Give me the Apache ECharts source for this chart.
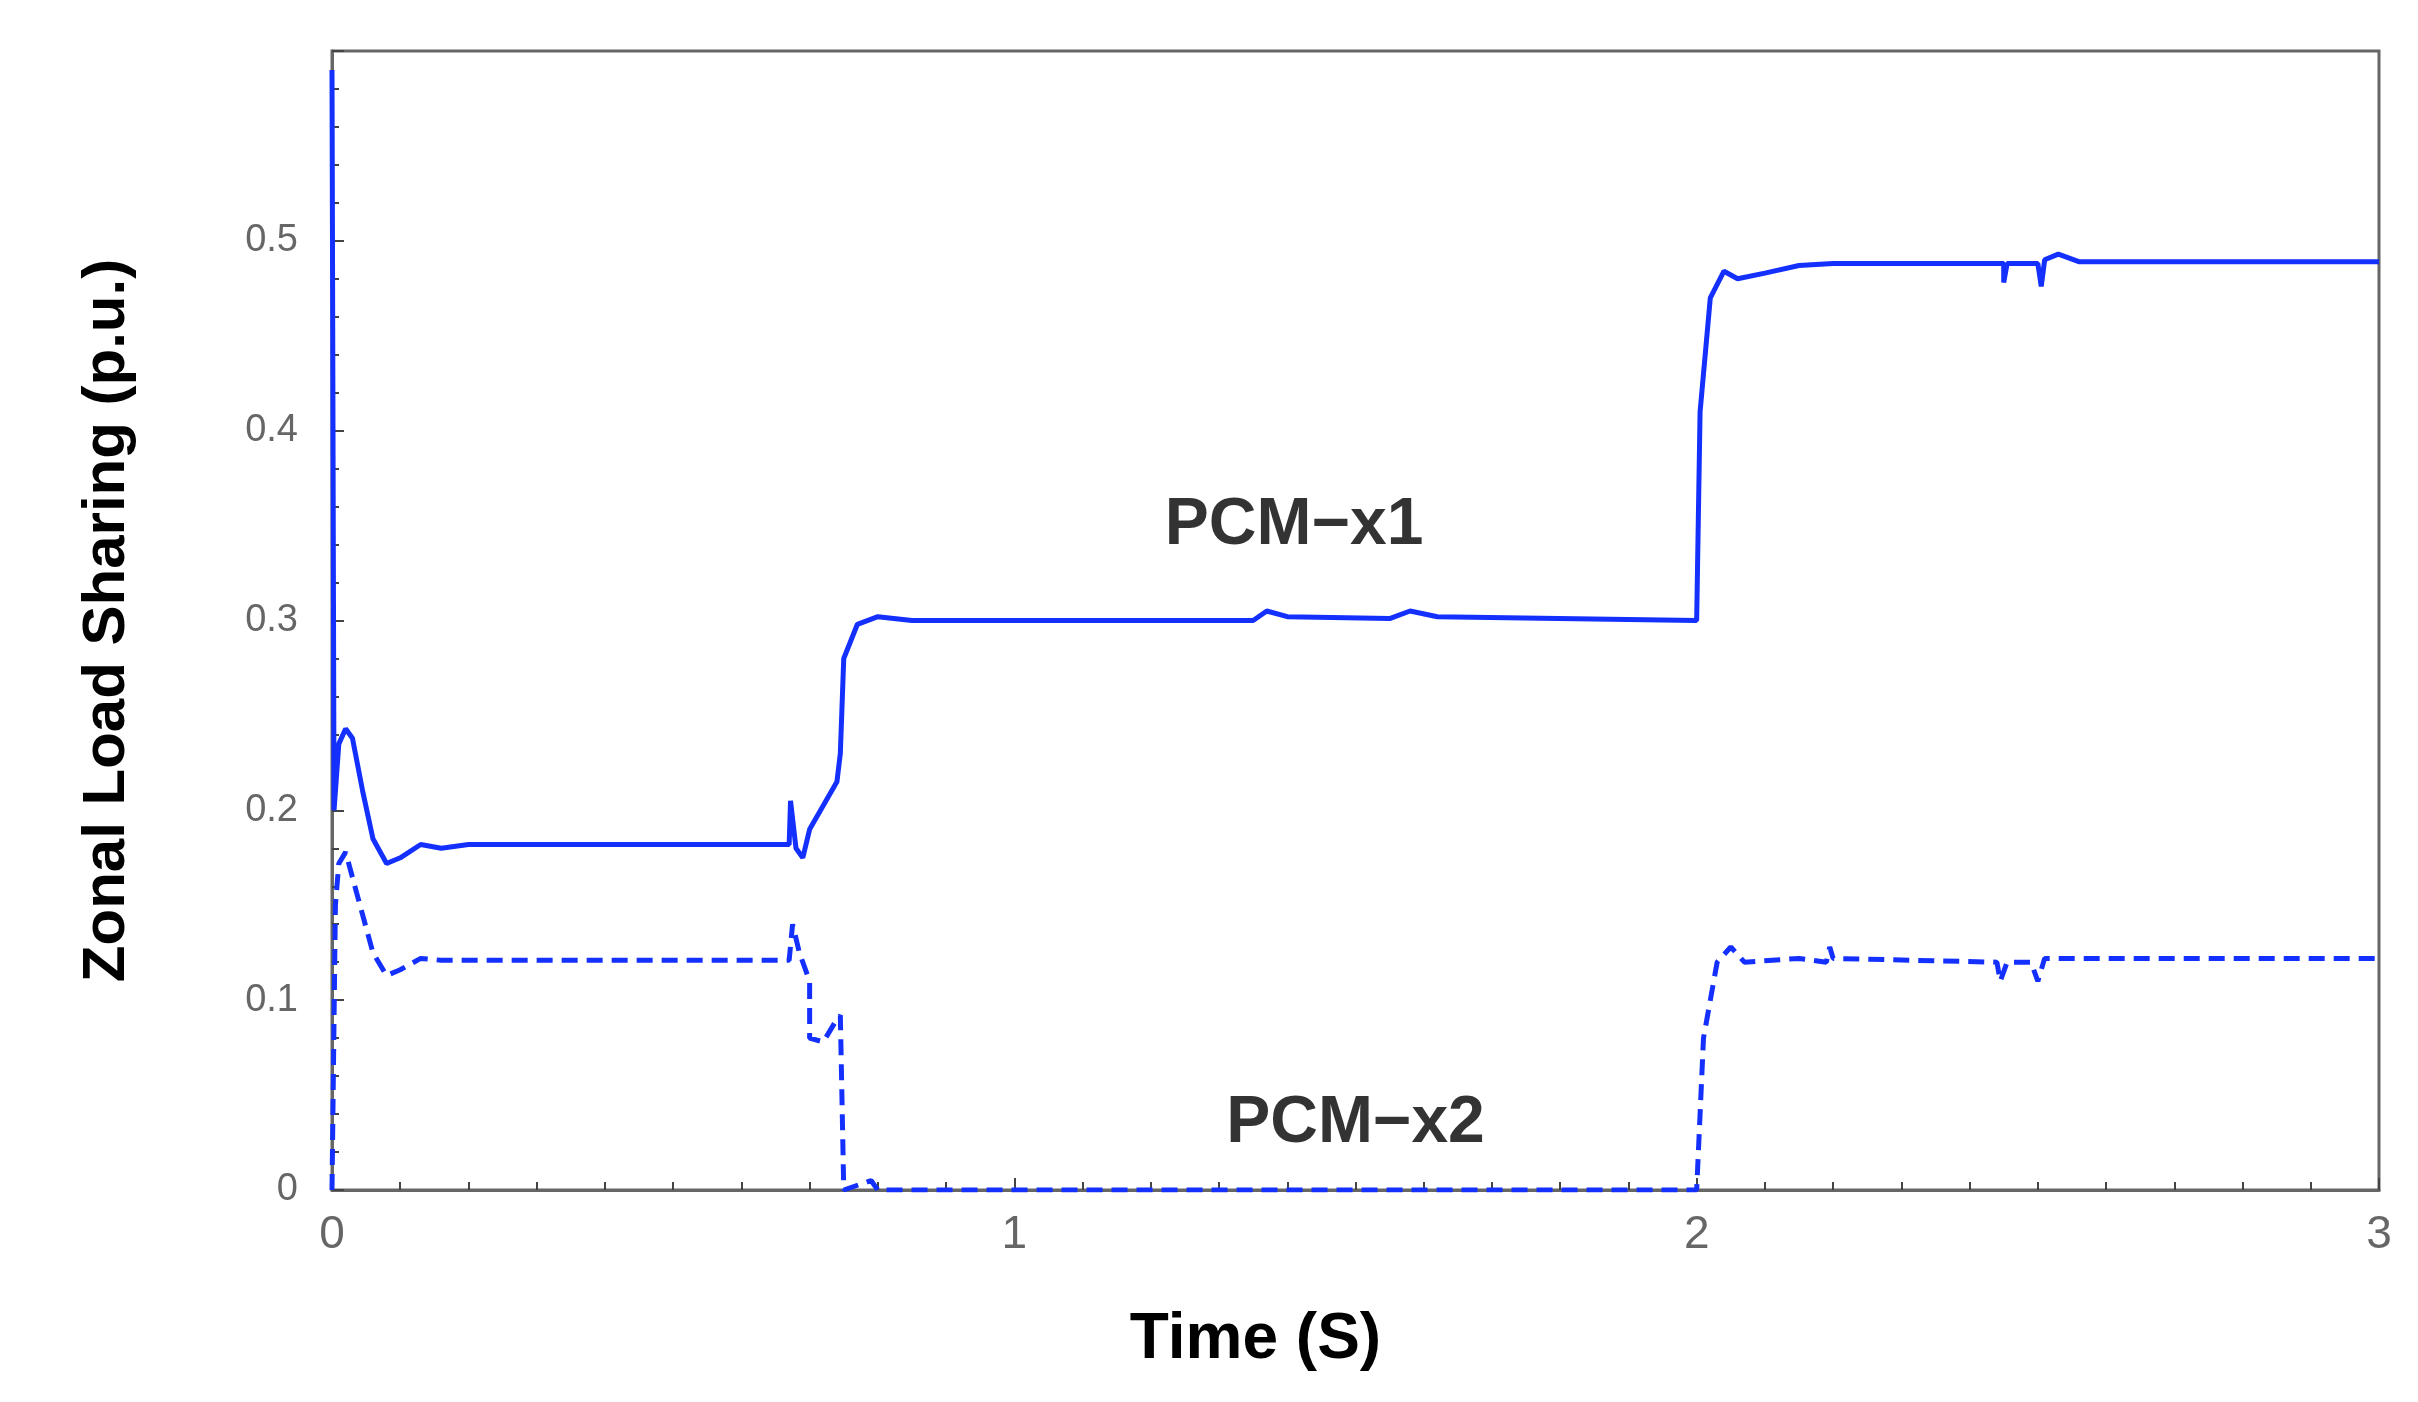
<!DOCTYPE html>
<html><head><meta charset="utf-8">
<script src="https://cdn.jsdelivr.net/npm/echarts@6/dist/echarts.min.js"></script>
<style>html,body{margin:0;padding:0;background:#fff}#c{width:2418px;height:1402px}</style>
</head><body><div id="c"></div>
<script>
const xTicks = [0, 1, 2, 3];
const yTicks = [0, 0.1, 0.2, 0.3, 0.4, 0.5];
const pcmX1 = [[0,0.59],[0.003,0.2],[0.01,0.235],[0.02,0.243],[0.03,0.238],[0.045,0.21],[0.06,0.185],[0.08,0.172],[0.1,0.175],[0.13,0.182],[0.16,0.18],[0.2,0.182],[0.67,0.182],[0.672,0.205],[0.68,0.18],[0.69,0.175],[0.7,0.19],[0.74,0.215],[0.745,0.23],[0.75,0.28],[0.77,0.298],[0.8,0.302],[0.85,0.3],[1.35,0.3],[1.37,0.305],[1.4,0.302],[1.55,0.301],[1.58,0.305],[1.62,0.302],[2.0,0.3],[2.005,0.41],[2.02,0.47],[2.04,0.484],[2.06,0.48],[2.1,0.483],[2.15,0.487],[2.2,0.488],[2.45,0.488],[2.45,0.478],[2.455,0.488],[2.5,0.488],[2.505,0.476],[2.51,0.49],[2.53,0.493],[2.56,0.489],[3,0.489]];
const pcmX2 = [[0,0],[0.005,0.15],[0.01,0.172],[0.02,0.178],[0.035,0.158],[0.06,0.125],[0.08,0.113],[0.1,0.116],[0.13,0.122],[0.16,0.121],[0.67,0.121],[0.675,0.14],[0.685,0.125],[0.7,0.11],[0.7,0.08],[0.72,0.078],[0.74,0.09],[0.745,0.092],[0.75,0],[0.79,0.005],[0.8,0],[2.0,0],[2.01,0.08],[2.03,0.12],[2.05,0.128],[2.07,0.12],[2.15,0.122],[2.19,0.12],[2.195,0.128],[2.2,0.122],[2.44,0.12],[2.445,0.11],[2.455,0.12],[2.49,0.12],[2.5,0.11],[2.51,0.122],[3,0.122]];
const labels = [{text:'PCM\u2212x1', x:1.41, y:0.35},{text:'PCM\u2212x2', x:1.5, y:0.035}];

const chart = echarts.init(document.getElementById('c'));
const axisCommon = {
  axisLine:{show:true,lineStyle:{color:'#666',width:3}},
  axisTick:{show:true,inside:true,length:12,lineStyle:{color:'#444',width:2}},
  minorTick:{show:true,splitNumber:5,length:7,lineStyle:{color:'#444',width:2}},
  splitLine:{show:false},
  axisLabel:{color:'#666',fontSize:38,fontFamily:'Liberation Sans'}
};
chart.setOption({
  animation:false,
  grid:{left:332,right:2418-2379,top:51,bottom:1402-1190,show:true,borderColor:'#666',borderWidth:3},
  xAxis:[Object.assign({type:'value',min:0,max:3,interval:1,name:'Time (S)',nameLocation:'middle',nameGap:118,
    nameTextStyle:{fontSize:64,fontWeight:'bold',color:'#000',fontFamily:'Liberation Sans',padding:[0,200,0,0]}},axisCommon,
    {minorTick:{show:true,splitNumber:10,length:8,lineStyle:{color:'#444',width:2}},axisLabel:Object.assign({},axisCommon.axisLabel,{fontSize:46,margin:22})})],
  yAxis:[Object.assign({type:'value',min:0,max:0.6,interval:0.1,name:'Zonal Load Sharing (p.u.)',nameLocation:'middle',nameGap:195,
    nameTextStyle:{fontSize:60,fontWeight:'bold',color:'#000',fontFamily:'Liberation Sans'}},axisCommon,
    {axisLabel:Object.assign({},axisCommon.axisLabel,{margin:34,formatter:v=>{const t=yTicks.find(a=>Math.abs(a-v)<1e-9);return t===undefined?'':(t===0?'0':t.toFixed(1));}})})],
  series:[
    {type:'line',data:pcmX1,showSymbol:false,lineStyle:{color:'#1430ff',width:5},z:3},
    {type:'line',data:pcmX2,showSymbol:false,lineStyle:{color:'#1430ff',width:5,type:[16,9]},z:3},
    {type:'scatter',data:labels.map(l=>[l.x,l.y]),symbolSize:0,
     label:{show:true,position:'inside',formatter:p=>labels[p.dataIndex].text,fontSize:66,fontWeight:'bold',color:'#000',textBorderWidth:0,fontFamily:'Liberation Sans'}}
  ]
});
</script></body></html>
